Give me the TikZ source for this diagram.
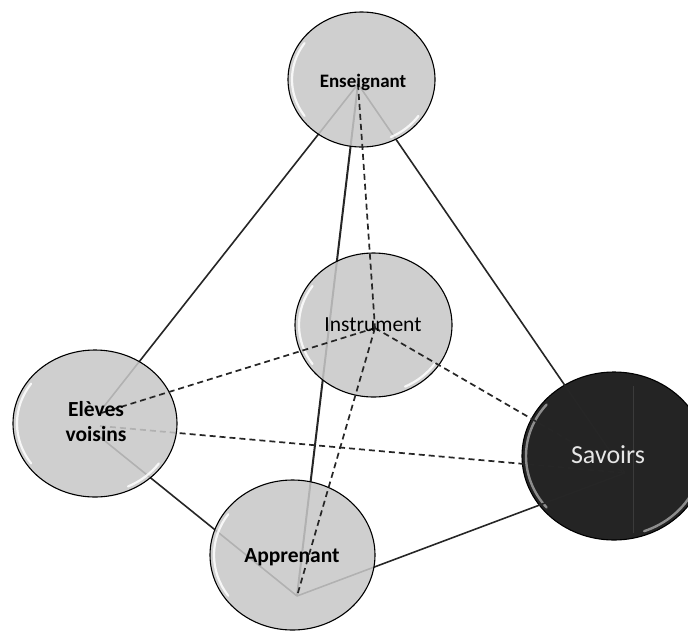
\documentclass[tikz,border=0pt]{standalone}
\usepackage{fontspec}
\newfontfamily\carlito{Carlito}
\usetikzlibrary{shapes.geometric}
\definecolor{bubblefill}{HTML}{C8C8C8}
\definecolor{darkfill}{HTML}{242424}
\definecolor{linkcol}{HTML}{262626}
\definecolor{savtext}{HTML}{E6E6E6}
\begin{document}
\begin{tikzpicture}[x=1pt,y=-1pt,
  bubble/.style={ellipse, draw=black, line width=1.1pt, fill=bubblefill, fill opacity=0.86, draw opacity=1, inner sep=0pt},
  solidlink/.style={draw=linkcol, line width=1.6pt},
  dashlink/.style={draw=linkcol, line width=1.7pt, dash pattern=on 6pt off 4pt},
  gloss/.style={draw=white, line width=2.2pt, line cap=round, opacity=0.85},
  darkgloss/.style={draw=gray!80, line width=2.4pt, line cap=round, opacity=0.9},
  lbl/.style={text=black, inner sep=0pt, align=center}]
\useasboundingbox (0,0) rectangle (688,630);
\clip (0,0) rectangle (688,630);
\fill[white] (0,0) rectangle (688,630);

% Savoirs (dark) bubble
\node[ellipse, draw=black, line width=1.1pt, fill=darkfill, inner sep=0pt,
      minimum width=184pt, minimum height=168pt] (sav) at (614,456) {};
\draw[darkgloss] (614,456) ++(-140:88 and 80) arc[start angle=-140, end angle=-220, x radius=88, y radius=80];
\draw[darkgloss] (614,456) ++(70:88 and 80) arc[start angle=70, end angle=25, x radius=88, y radius=80];
\draw[draw=gray!25!darkfill, line width=0.6pt] (633,386) -- (633,533);

% connection points
\coordinate (pEns) at (358,84);
\coordinate (pIns) at (375,328);
\coordinate (pVup) at (98,414);
\coordinate (pVmid) at (100,426);
\coordinate (pVlow) at (100,437);
\coordinate (pSav) at (625,473);
\coordinate (pApp) at (297,596);

% links drawn behind the light bubbles
\draw[solidlink] (pEns) -- (pVup);
\draw[solidlink] (pEns) -- (pSav);
\draw[solidlink, line width=2pt] (pEns) -- (pApp);
\draw[solidlink] (pVlow) -- (pApp);
\draw[solidlink] (pApp) -- (pSav);
\draw[dashlink] (pVmid) -- (pSav);

% light bubbles
\node[bubble, minimum width=147pt, minimum height=135pt] (ens) at (361.5,79.5) {};
\node[bubble, minimum width=157pt, minimum height=144pt] (ins) at (373.5,325) {};
\node[bubble, minimum width=164pt, minimum height=147pt] (elv) at (95,423.5) {};
\node[bubble, minimum width=165pt, minimum height=150pt] (app) at (292.5,555) {};

% gloss highlights
\draw[gloss] (361.5,79.5) ++(-145:69.5 and 63.5) arc[start angle=-145, end angle=-215, x radius=69.5, y radius=63.5];
\draw[gloss] (361.5,79.5) ++(65:69.5 and 63.5) arc[start angle=65, end angle=35, x radius=69.5, y radius=63.5];
\draw[gloss] (373.5,325) ++(-145:74.5 and 68) arc[start angle=-145, end angle=-215, x radius=74.5, y radius=68];
\draw[gloss] (373.5,325) ++(65:74.5 and 68) arc[start angle=65, end angle=35, x radius=74.5, y radius=68];
\draw[gloss] (95,423.5) ++(-145:78 and 69.5) arc[start angle=-145, end angle=-215, x radius=78, y radius=69.5];
\draw[gloss] (95,423.5) ++(65:78 and 69.5) arc[start angle=65, end angle=35, x radius=78, y radius=69.5];
\draw[gloss] (292.5,555) ++(-145:78.5 and 71) arc[start angle=-145, end angle=-215, x radius=78.5, y radius=71];

% links drawn over the bubbles
\draw[dashlink] (pEns) -- (pIns);
\draw[dashlink] (pIns) -- (pVup);
\draw[dashlink] (pIns) -- (pSav);
\draw[dashlink] (pIns) -- (pApp);

% labels
\node[lbl, font=\carlito\bfseries\fontsize{19}{22}\selectfont] (tens) at (363,82) {Enseignant};
\node[lbl, font=\carlito\fontsize{21.5}{25}\selectfont] (tins) at (373,325) {Instrument};
\node[lbl, font=\carlito\bfseries\fontsize{21.5}{25}\selectfont] (telv) at (96,422) {Elèves\\voisins};
\node[lbl, text=savtext, font=\carlito\fontsize{26}{30}\selectfont] (tsav) at (608,455) {Savoirs};
\node[lbl, font=\carlito\bfseries\fontsize{21.5}{25}\selectfont] (tapp) at (292,557) {Apprenant};
\end{tikzpicture}
\end{document}
